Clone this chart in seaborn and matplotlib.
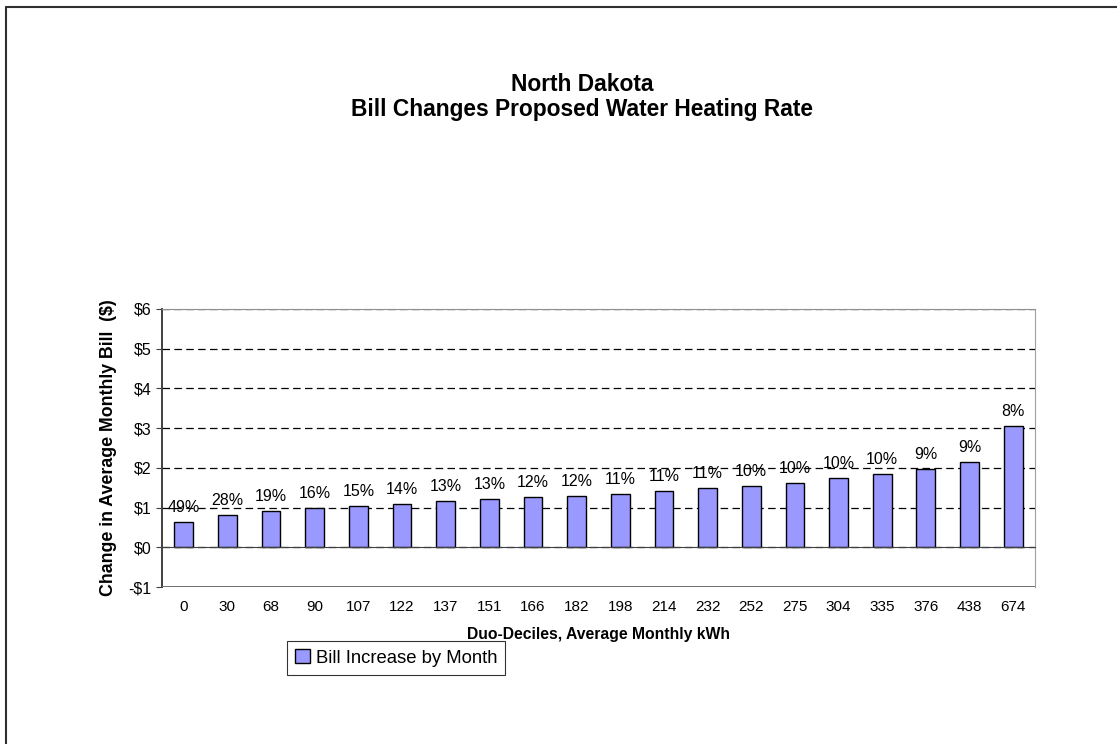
import numpy as np
import pandas as pd
import matplotlib
matplotlib.use('Agg')
import matplotlib.pyplot as plt
import seaborn as sns
from matplotlib.lines import Line2D

# Data
kwh_deciles = ['0', '30', '68', '90', '107', '122', '137', '151', '166', '182',
               '198', '214', '232', '252', '275', '304', '335', '376', '438', '674']
bill_increase = [0.64, 0.81, 0.92, 0.98, 1.05, 1.10, 1.16, 1.22, 1.27, 1.30,
                 1.35, 1.41, 1.49, 1.54, 1.63, 1.74, 1.84, 1.98, 2.14, 3.06]
pct_labels = ['49%', '28%', '19%', '16%', '15%', '14%', '13%', '13%', '12%', '12%',
              '11%', '11%', '11%', '10%', '10%', '10%', '10%', '9%', '9%', '8%']
y_ticks = [-1, 0, 1, 2, 3, 4, 5, 6]

df = pd.DataFrame({'kWh': kwh_deciles, 'Increase': bill_increase})

sns.set_style('white')
plt.rcParams['font.family'] = ['Liberation Sans', 'DejaVu Sans']
plt.rcParams['text.color'] = 'black'
plt.rcParams['axes.labelcolor'] = 'black'
plt.rcParams['xtick.color'] = 'black'
plt.rcParams['ytick.color'] = 'black'

fig = plt.figure(figsize=(11.17, 7.44), dpi=100)
ax = fig.add_axes([0.145, 0.211, 0.9266 - 0.145, 0.5847 - 0.211])

sns.barplot(data=df, x='kWh', y='Increase', color='#9999FF', saturation=1,
            width=0.43, edgecolor='black', linewidth=1, ax=ax,
            label='Bill Increase by Month')

# percent labels above bars
for i, (v, lab) in enumerate(zip(bill_increase, pct_labels)):
    ax.annotate(lab, (i, v), xytext=(0, 5), textcoords='offset points',
                ha='center', va='bottom', fontsize=11.5)

ax.set_ylim(-1, 6)
ax.set_xlim(-0.5, len(kwh_deciles) - 0.5)
ax.set_yticks(y_ticks)
ax.set_yticklabels([('-$%d' % abs(t)) if t < 0 else ('$%d' % t) for t in y_ticks], fontsize=11.5)

# dashed gridlines
ax.yaxis.grid(True, color='black', linestyle=(0, (6, 3.5)), linewidth=0.9)
ax.set_axisbelow(True)

# x axis sits at $0, like Excel
ax.spines['bottom'].set_position(('data', 0))
ax.spines['bottom'].set_color('#404040')
ax.spines['left'].set_color('#404040')
ax.spines['left'].set_linewidth(1.4)
ax.spines['top'].set_color('#909090')
ax.spines['right'].set_color('#a0a0a0')
ax.axhline(-1, color='#707070', linewidth=1.4, zorder=3)

ax.set_xticks(np.arange(-0.5, len(kwh_deciles)), minor=True)
ax.tick_params(axis='x', which='major', length=0, pad=38, labelsize=11)
ax.tick_params(axis='x', which='minor', length=3.5, direction='out', color='#404040')
ax.tick_params(axis='y', which='major', length=4, direction='out', color='#404040', left=True)

ax.set_xlabel('Duo-Deciles, Average Monthly kWh', fontsize=11.3, fontweight='bold')
ax.xaxis.set_label_coords(0.5, -0.145)
ax.set_ylabel('Change in Average Monthly Bill  ($)', fontsize=12.8, fontweight='bold')
ax.yaxis.set_label_coords(-0.052, 0.5)

fig.text(582 / 1117, 1 - 97 / 744, 'North Dakota\nBill Changes Proposed Water Heating Rate',
         ha='center', va='center', fontsize=16.4, fontweight='bold', linespacing=1.1)

handles, labels = ax.get_legend_handles_labels()
if ax.legend_:
    ax.legend_.remove()
fig.legend(handles[:1], ['Bill Increase by Month'], loc='upper left',
           bbox_to_anchor=(287 / 1117, 1 - 641 / 744), frameon=True, fancybox=False,
           edgecolor='black', fontsize=13.3, handlelength=0.8, handleheight=0.8,
           handletextpad=0.3, borderpad=0.45, borderaxespad=0)
fig.legends[0].get_frame().set_linewidth(0.8)

# frame lines on top and left of the picture
fig.add_artist(Line2D([6 / 1117, 6 / 1117], [0, 1 - 7 / 744], color='#303030', linewidth=1.5))
fig.add_artist(Line2D([6 / 1117, 1], [1 - 7 / 744, 1 - 7 / 744], color='#303030', linewidth=1.5))

fig.savefig('out.png', dpi=100, facecolor='white')
